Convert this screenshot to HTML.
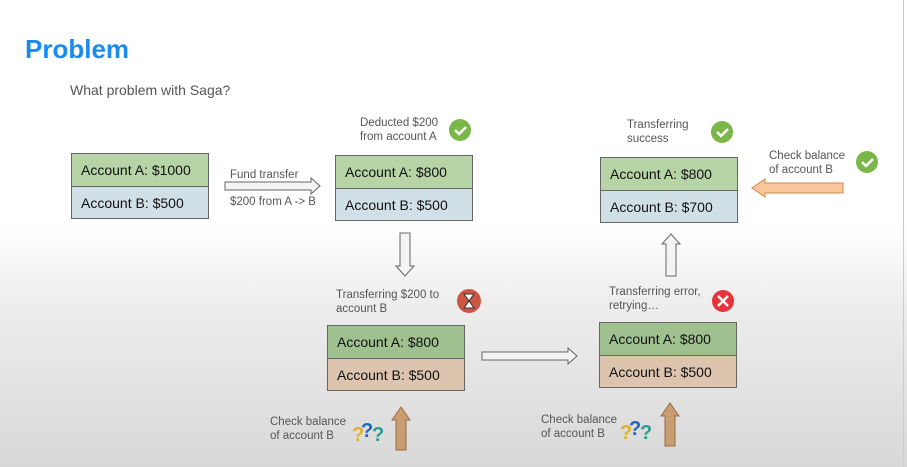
<!DOCTYPE html>
<html><head><meta charset="utf-8"><style>
body{margin:0;width:907px;height:467px;overflow:hidden;font-family:"Liberation Sans",Arial,sans-serif;
background:linear-gradient(to bottom,#fff 0,#fff 225px,#eeeeee 300px,#d8d8d8 467px);position:relative}
.a{position:absolute}
.box{position:absolute;width:136px;border:1px solid #666;}
.box div{height:32px;line-height:32px;padding-left:9px;font-size:14px;color:#111;box-sizing:border-box}
.box div+div{border-top:1px solid #666}
.g{background:#b6d4a6}.b{background:#d1dfe6}.g2{background:#9fc08f}.t{background:#dcc4af}
.lbl{position:absolute;font-size:11.5px;color:#555;line-height:14px}
</style></head><body>
<div class="a" style="left:25px;top:34px;font-size:26px;font-weight:bold;color:#1a8cf0">Problem</div>
<div class="a" style="left:70px;top:82px;font-size:14px;color:#555">What problem with Saga?</div>
<div class="a" style="left:903px;top:0;width:1px;height:467px;background:#ccc"></div>

<div class="box" style="left:71px;top:153px"><div class="g">Account A: $1000</div><div class="b">Account B: $500</div></div>
<div class="box" style="left:335px;top:155px"><div class="g">Account A: $800</div><div class="b">Account B: $500</div></div>
<div class="box" style="left:327px;top:325px"><div class="g2">Account A: $800</div><div class="t">Account B: $500</div></div>
<div class="box" style="left:599px;top:322px"><div class="g2">Account A: $800</div><div class="t">Account B: $500</div></div>
<div class="box" style="left:600px;top:157px"><div class="g">Account A: $800</div><div class="b">Account B: $700</div></div>

<div class="lbl" style="left:230px;top:168px">Fund transfer</div>
<div class="lbl" style="left:230px;top:195px">$200 from A -&gt; B</div>
<div class="lbl" style="left:360px;top:116px">Deducted $200<br>from account A</div>
<div class="lbl" style="left:627px;top:118px">Transferring<br>success</div>
<div class="lbl" style="left:769px;top:149px">Check balance<br>of account B</div>
<div class="lbl" style="left:336px;top:288px">Transferring $200 to<br>account B</div>
<div class="lbl" style="left:609px;top:285px">Transferring error,<br>retrying…</div>
<div class="lbl" style="left:270px;top:415px">Check balance<br>of account B</div>
<div class="lbl" style="left:541px;top:413px">Check balance<br>of account B</div>

<svg class="a" style="left:0;top:0" width="907" height="467">
<g stroke="#666" stroke-width="1" fill="#f4f4f4">
<polygon points="225,182 311,182 311,178 320,186 311,194 311,190 225,190"/>
<polygon points="400,233 410,233 410,266 414,266 405,276 396,266 400,266"/>
<polygon points="482,352 568,352 568,348 577,356 568,364 568,360 482,360"/>
<polygon points="666,276 676,276 676,244 680,244 671,234 662,244 666,244"/>
</g>
<polygon points="843,183 843,193 765,193 765,197 752,188 765,179 765,183" fill="#f7c79b" stroke="#d08a4a"/>
<polygon points="396,450 406,450 406,420 410,420 401,407 392,420 396,420" fill="#c99d72" stroke="#9a6e44"/>
<polygon points="665,446 675,446 675,416 679,416 670,403 661,416 665,416" fill="#c99d72" stroke="#9a6e44"/>
<g fill="#7ab648"><circle cx="460" cy="130" r="11"/><circle cx="722" cy="132" r="11"/><circle cx="867" cy="162" r="11"/></g>
<g stroke="#fff" stroke-width="2.5" fill="none">
<path d="M455,130 l4,4 l7,-7"/><path d="M717,132 l4,4 l7,-7"/><path d="M862,162 l4,4 l7,-7"/></g>
<circle cx="469" cy="301" r="12" fill="#cc5544"/>
<path d="M464,294 h10 l-5,7 l5,7 h-10 l5,-7z" fill="#fff" stroke="#333"/>
<circle cx="723" cy="301" r="11" fill="#e8333a"/>
<path d="M718,296 l10,10 M728,296 l-10,10" stroke="#fff" stroke-width="2.5"/>
<g font-family="Liberation Sans" font-weight="bold" font-size="20">
<text x="352" y="441" fill="#e0b030">?</text><text x="361" y="437" fill="#2266bb">?</text><text x="372" y="441" fill="#2a9d8f">?</text>
<text x="620" y="439" fill="#e0b030">?</text><text x="629" y="435" fill="#2266bb">?</text><text x="640" y="439" fill="#2a9d8f">?</text>
</g>
</svg>
</body></html>
